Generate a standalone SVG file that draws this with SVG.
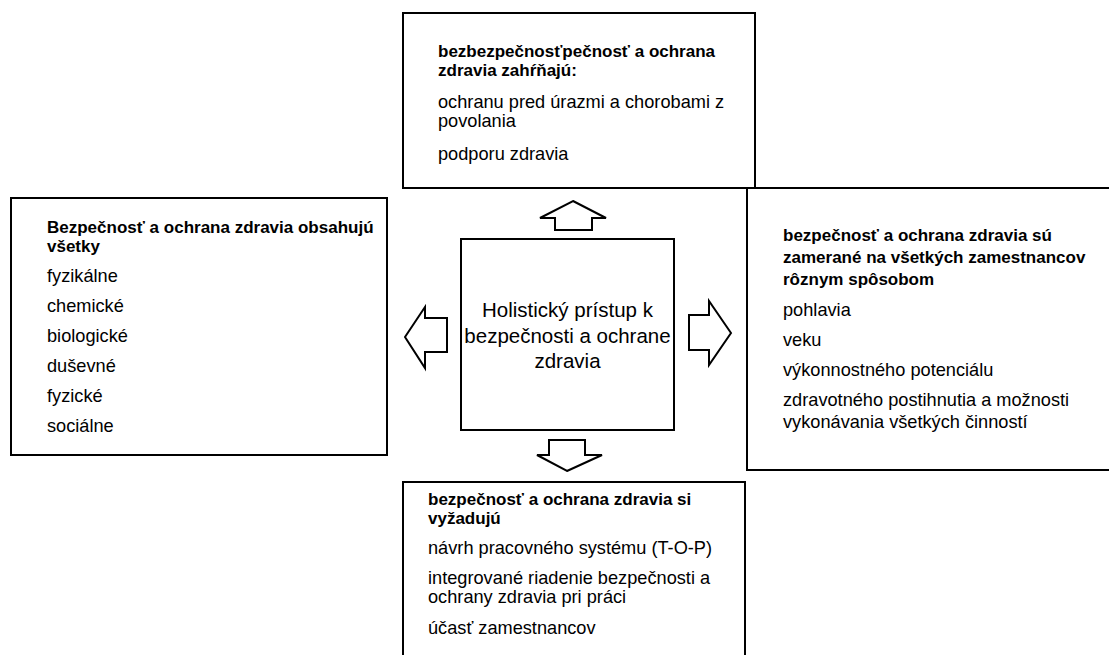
<svg xmlns="http://www.w3.org/2000/svg" width="1109" height="655" viewBox="0 0 1109 655">
<style>
.box{fill:#fff;stroke:#000;stroke-width:2}
.arr{fill:#fff;stroke:#000;stroke-width:2;stroke-linejoin:miter}
text{font-family:"Liberation Sans",Arial,sans-serif;fill:#000}
.t{font-size:18.2px}
.b{font-size:17px;font-weight:bold}
.c{font-size:20.5px;text-anchor:middle}
</style>
<rect width="1109" height="655" fill="#fff"/>
<g id="node-right">
<rect class="box" x="747" y="188" width="380" height="282"/>
<text class="b" x="783" y="241">bezpečnosť a ochrana zdravia sú</text>
<text class="b" x="783" y="263">zamerané na všetkých zamestnancov</text>
<text class="b" x="783" y="285">rôznym spôsobom</text>
<text class="t" x="783" y="316">pohlavia</text>
<text class="t" x="783" y="346">veku</text>
<text class="t" x="783" y="376">výkonnostného potenciálu</text>
<text class="t" x="783" y="406">zdravotného postihnutia a možnosti</text>
<text class="t" x="783" y="428">vykonávania všetkých činností</text>
</g>
<g id="node-top">
<rect class="box" x="403" y="13" width="352" height="175"/>
<text class="b" x="438" y="57">bezbezpečnosťpečnosť a ochrana</text>
<text class="b" x="438" y="76">zdravia zahŕňajú:</text>
<text class="t" x="438" y="108">ochranu pred úrazmi a chorobami z</text>
<text class="t" x="438" y="127">povolania</text>
<text class="t" x="438" y="160">podporu zdravia</text>
</g>
<g id="node-left">
<rect class="box" x="11" y="198" width="376" height="257"/>
<text class="b" x="47" y="233">Bezpečnosť a ochrana zdravia obsahujú</text>
<text class="b" x="47" y="252">všetky</text>
<text class="t" x="47" y="282">fyzikálne</text>
<text class="t" x="47" y="312">chemické</text>
<text class="t" x="47" y="342">biologické</text>
<text class="t" x="47" y="372">duševné</text>
<text class="t" x="47" y="402">fyzické</text>
<text class="t" x="47" y="432">sociálne</text>
</g>
<g id="node-center">
<rect class="box" x="461" y="239" width="213" height="191"/>
<text class="c" x="567.5" y="317">Holistický prístup k</text>
<text class="c" x="567.5" y="343">bezpečnosti a ochrane</text>
<text class="c" x="567.5" y="368">zdravia</text>
</g>
<g id="node-bottom">
<rect class="box" x="403" y="482" width="342" height="190"/>
<text class="b" x="428" y="505">bezpečnosť a ochrana zdravia si</text>
<text class="b" x="428" y="524">vyžadujú</text>
<text class="t" x="428" y="554">návrh pracovného systému (T-O-P)</text>
<text class="t" x="428" y="584">integrované riadenie bezpečnosti a</text>
<text class="t" x="428" y="603">ochrany zdravia pri práci</text>
<text class="t" x="428" y="634">účasť zamestnancov</text>
</g>
<g id="connectors">
<polygon class="arr" points="573,201 606,218 592,218 592,230 555,230 555,218 540,218"/>
<polygon class="arr" points="405,337 425,307 425,318 447,318 447,352 425,352 425,368"/>
<polygon class="arr" points="731,333 709,301 709,315 689,315 689,350 709,350 709,365"/>
<polygon class="arr" points="567,471 602,455 585,455 585,440 549,440 549,455 537,455"/>
</g>
</svg>
